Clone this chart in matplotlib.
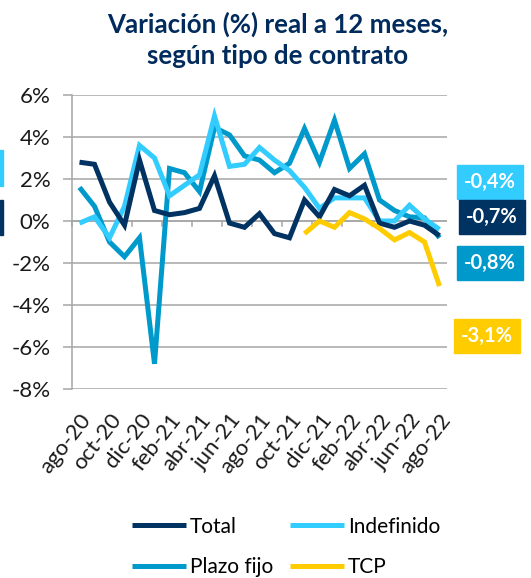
#!/usr/bin/env python3
# Variacion real a 12 meses segun tipo de contrato

import matplotlib
matplotlib.use("Agg")
import matplotlib.pyplot as plt
from matplotlib.patches import Rectangle
import numpy as np

plt.rcParams['font.family'] = ['Lato', 'DejaVu Sans']

# months ago-20 .. ago-22
months = ['ago-20', 'sep-20', 'oct-20', 'nov-20', 'dic-20', 'ene-21', 'feb-21',
          'mar-21', 'abr-21', 'may-21', 'jun-21', 'jul-21', 'ago-21', 'sep-21',
          'oct-21', 'nov-21', 'dic-21', 'ene-22', 'feb-22', 'mar-22', 'abr-22',
          'may-22', 'jun-22', 'jul-22', 'ago-22']

total = [2.8, 2.7, 0.9, -0.2, 2.9, 0.5, 0.3, 0.4, 0.6, 2.15, -0.1, -0.3, 0.35,
         -0.6, -0.8, 1.0, 0.2, 1.5, 1.2, 1.7, -0.1, -0.3, 0.0, -0.2, -0.7]
indefinido = [-0.1, 0.2, -0.8, 0.7, 3.6, 3.0, 1.2, 1.7, 2.2, 5.0, 2.6, 2.7, 3.5,
              2.9, 2.4, 1.6, 0.6, 1.1, 1.1, 1.1, 0.0, 0.0, 0.75, 0.1, -0.4]
plazo_fijo = [1.6, 0.7, -1.0, -1.7, -0.8, -6.8, 2.5, 2.3, 1.4, 4.45, 4.1, 3.1,
              2.9, 2.3, 2.75, 4.4, 2.8, 4.8, 2.5, 3.2, 1.0, 0.5, 0.2, 0.15, -0.8]
tcp = [None] * 15 + [-0.6, 0.0, -0.3, 0.4, 0.1, -0.35, -0.9, -0.55, -1.0, -3.1]

c_total = '#003262'
c_indef = '#33CCFF'
c_plazo = '#0099CC'
c_tcp = '#FFCC00'
c_title = '#002B5C'

W, H = 531, 578
fig = plt.figure(figsize=(W / 100, H / 100), dpi=100)
ax = fig.add_axes([72 / W, 1 - 389 / H, 375 / W, 294 / H])

x = np.arange(len(months))
tcp_arr = np.array([np.nan if v is None else v for v in tcp])

series = [('Total', total, c_total),
          ('Plazo fijo', plazo_fijo, c_plazo),
          ('Indefinido', indefinido, c_indef),
          ('TCP', tcp_arr, c_tcp)]
lines = {}
# draw order: plazo fijo, indefinido, total, tcp
for name, vals, col in [series[1], series[2], series[0], series[3]]:
    ln, = ax.plot(x, vals, color=col, lw=3.6, solid_joinstyle='miter',
                  solid_capstyle='butt', label=name, zorder=3)
    lines[name] = ln

ax.set_xlim(-0.5, len(months) - 0.5)
ax.set_ylim(-8, 6)
yt = np.arange(-8, 7, 2)
ax.set_yticks(yt)
ax.set_yticklabels([f'{v}%' for v in yt], fontsize=16, color='#1a1a1a')
ax.yaxis.grid(True, color='#A6A6A6', lw=1.1)
ax.set_axisbelow(True)
ax.tick_params(axis='y', length=6.5, width=1.1, color='#A6A6A6', pad=9)

ax.set_xticks(x[::2])
ax.set_xticklabels(months[::2], rotation=52, ha='right', va='top',
                   rotation_mode='anchor', fontsize=16, color='#1a1a1a')
ax.tick_params(axis='x', length=0, pad=15)

for s in ['top', 'right', 'bottom']:
    ax.spines[s].set_visible(False)
ax.spines['left'].set_color('#A6A6A6')
ax.spines['left'].set_linewidth(1.1)

# category axis crosses at 0%, tick marks every two months
for b in np.arange(-0.5, len(months), 2):
    ax.plot([b, b], [0, -0.25], color='#A6A6A6', lw=1.1, zorder=2,
            clip_on=False)
ax.axhline(0, color='#A6A6A6', lw=1.1, zorder=1)

# title
fig.text(278 / W, 1 - 24 / H, 'Variación (%) real a 12 meses,',
         ha='center', va='center', fontsize=18.6, fontweight='bold',
         color=c_title)
fig.text(278 / W, 1 - 56 / H, 'según tipo de contrato',
         ha='center', va='center', fontsize=18.6, fontweight='bold',
         color=c_title)

# end value labels
def fmt(v):
    return f'{v:.1f}%'.replace('.', ',')

boxes = [(indefinido[-1], c_indef, 457, 165),
         (total[-1], c_total, 459, 200),
         (plazo_fijo[-1], c_plazo, 457, 246),
         (tcp[-1], c_tcp, 454, 319)]
for v, col, bx, by in boxes:
    fig.patches.append(Rectangle((bx / W, 1 - (by + 34) / H), 66 / W, 34 / H,
                                 transform=fig.transFigure, color=col))
    fig.text((bx + 33) / W, 1 - (by + 17) / H, fmt(v), ha='center',
             va='center', fontsize=14.5, fontweight='bold', color='white')

# clipped label pieces at left edge
fig.patches.append(Rectangle((0, 1 - 186 / H), 3 / W, 36 / H,
                             transform=fig.transFigure, color=c_indef))
fig.patches.append(Rectangle((0, 1 - 235 / H), 3 / W, 35 / H,
                             transform=fig.transFigure, color=c_total))

# legend
order = ['Total', 'Plazo fijo', 'Indefinido', 'TCP']
fig.legend([lines[k] for k in order], order, ncol=2, loc='center',
           bbox_to_anchor=(286 / W, 1 - 547 / H), frameon=False,
           fontsize=15, handlelength=2.6, handletextpad=0.2,
           columnspacing=0.8, labelspacing=1.0)

fig.savefig('out.png', dpi=100)
